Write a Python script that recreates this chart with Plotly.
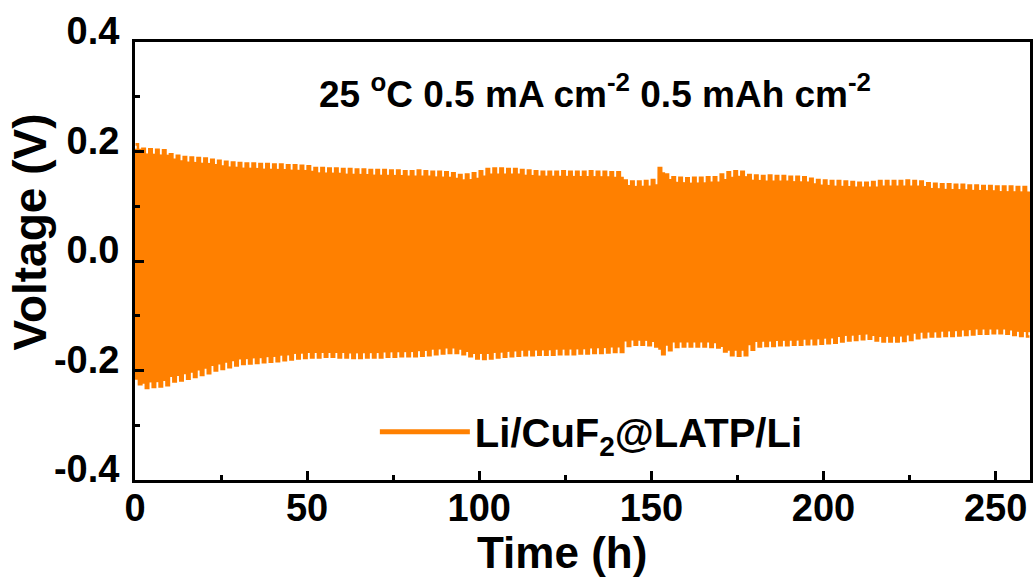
import plotly.graph_objects as go

# Galvanostatic cycling protocol: 0.5 mAh cm-2 at 0.5 mA cm-2 -> 1 h per half cycle
half_cycle_h = 1.0

# Peak voltage (V) of each plating half cycle (cycle 1..130)
upper_peak_V = [
    0.213, 0.205, 0.204, 0.203, 0.202, 0.195, 0.192, 0.190, 0.189, 0.188,
    0.187, 0.185, 0.183, 0.181, 0.180, 0.179, 0.178, 0.178, 0.177, 0.177,
    0.176, 0.176, 0.175, 0.175, 0.174, 0.173, 0.170, 0.170, 0.169, 0.169,
    0.168, 0.168, 0.167, 0.167, 0.166, 0.166, 0.166, 0.165, 0.165, 0.164,
    0.164, 0.165, 0.164, 0.163, 0.163, 0.162, 0.160, 0.157, 0.158, 0.160,
    0.164, 0.168, 0.169, 0.169, 0.168, 0.168, 0.166, 0.165, 0.164, 0.163,
    0.163, 0.163, 0.164, 0.163, 0.163, 0.163, 0.164, 0.163, 0.163, 0.162,
    0.162, 0.147, 0.145, 0.145, 0.146, 0.148, 0.170, 0.158, 0.153, 0.152,
    0.151, 0.152, 0.152, 0.153, 0.153, 0.158, 0.162, 0.164, 0.163, 0.157,
    0.156, 0.155, 0.156, 0.155, 0.155, 0.154, 0.154, 0.153, 0.150, 0.148,
    0.147, 0.146, 0.146, 0.145, 0.144, 0.143, 0.143, 0.144, 0.146, 0.146,
    0.146, 0.146, 0.147, 0.146, 0.145, 0.142, 0.141, 0.140, 0.140, 0.139,
    0.139, 0.138, 0.138, 0.137, 0.137, 0.136, 0.136, 0.136, 0.135, 0.135,
]

# Peak voltage (V) of each stripping half cycle
lower_peak_V = [
    -0.225, -0.232, -0.230, -0.229, -0.227, -0.220, -0.218, -0.215, -0.212, -0.208,
    -0.205, -0.200, -0.197, -0.194, -0.191, -0.188, -0.187, -0.186, -0.185, -0.184,
    -0.183, -0.181, -0.180, -0.178, -0.177, -0.176, -0.176, -0.175, -0.175, -0.176,
    -0.176, -0.177, -0.177, -0.176, -0.176, -0.176, -0.175, -0.175, -0.174, -0.174,
    -0.174, -0.173, -0.172, -0.170, -0.169, -0.168, -0.168, -0.170, -0.174, -0.178,
    -0.179, -0.178, -0.176, -0.175, -0.174, -0.173, -0.172, -0.172, -0.171, -0.171,
    -0.171, -0.170, -0.170, -0.170, -0.169, -0.169, -0.168, -0.168, -0.167, -0.166,
    -0.166, -0.155, -0.153, -0.153, -0.154, -0.156, -0.170, -0.163, -0.157, -0.156,
    -0.156, -0.156, -0.156, -0.157, -0.158, -0.165, -0.172, -0.173, -0.172, -0.162,
    -0.156, -0.155, -0.155, -0.154, -0.154, -0.153, -0.153, -0.152, -0.152, -0.151,
    -0.150, -0.149, -0.147, -0.145, -0.144, -0.143, -0.142, -0.145, -0.147, -0.147,
    -0.147, -0.146, -0.144, -0.141, -0.139, -0.138, -0.138, -0.137, -0.137, -0.136,
    -0.135, -0.134, -0.133, -0.133, -0.132, -0.132, -0.133, -0.135, -0.137, -0.138,
]

x_ticks = [0, 50, 100, 150, 200, 250]
y_ticks = [-0.4, -0.2, 0.0, 0.2, 0.4]
y_tick_text = ["-0.4", "-0.2", "0.0", "0.2", "0.4"]
series_name = "Li/CuF<sub>2</sub>@LATP/Li"
condition_text = "25 <sup>o</sup>C 0.5 mA cm<sup>-2</sup> 0.5 mAh cm<sup>-2</sup>"

ORANGE = "#FF8000"
FONT = "Arial, Liberation Sans, sans-serif"

# Build the voltage profile from the per-cycle peaks (short ramps between half cycles)
ramp = 0.15 * half_cycle_h
t, v = [], []
band_t, band_hi, band_lo = [], [], []
for i, (u, l) in enumerate(zip(upper_peak_V, lower_peak_V)):
    t0 = 2 * half_cycle_h * i
    t += [t0 + ramp, t0 + half_cycle_h - ramp, t0 + half_cycle_h + ramp, t0 + 2 * half_cycle_h - ramp]
    v += [u, u, l, l]
    band_t += [t0, t0 + half_cycle_h, t0 + half_cycle_h, t0 + 2 * half_cycle_h]
    band_hi += [u - 0.008] * 4
    band_lo += [l + 0.008] * 4

fig = go.Figure()
# solid interior of the densely packed trace
fig.add_trace(go.Scatter(x=band_t, y=band_lo, mode="lines", line=dict(width=0, color=ORANGE),
                         showlegend=False, hoverinfo="skip"))
fig.add_trace(go.Scatter(x=band_t, y=band_hi, mode="lines", line=dict(width=0, color=ORANGE),
                         fill="tonexty", fillcolor=ORANGE, showlegend=False, hoverinfo="skip"))
# the voltage profile
fig.add_trace(go.Scatter(x=t, y=v, mode="lines", line=dict(width=2.6, color=ORANGE),
                         showlegend=False, name=series_name))
# legend entry
fig.add_trace(go.Scatter(x=[None], y=[None], mode="lines", line=dict(width=5, color=ORANGE),
                         name=series_name, showlegend=True))

axis_common = dict(
    showline=True, linecolor="black", linewidth=3, mirror=True,
    ticks="inside", ticklen=9, tickwidth=3, tickcolor="black",
    showgrid=False, zeroline=False,
    tickfont=dict(family=FONT, size=38, color="black", weight="bold"),
)

fig.update_xaxes(range=[0, 260], tickvals=x_ticks, ticklabelstandoff=-8,
                 minor=dict(ticks="inside", ticklen=5, tickwidth=3, tickcolor="black", dtick=25, tick0=0),
                 **axis_common)
fig.update_yaxes(range=[-0.4, 0.4], tickvals=y_ticks, ticktext=y_tick_text, ticklabelshift=-11,
                 ticklabelstandoff=5,
                 minor=dict(ticks="inside", ticklen=5, tickwidth=3, tickcolor="black", dtick=0.1, tick0=0),
                 **axis_common)

fig.add_annotation(text=condition_text, x=0.5145, y=0.886, xref="paper", yref="paper",
                   xanchor="center", yanchor="middle", showarrow=False,
                   font=dict(family=FONT, size=37, color="black", weight="bold"))
fig.add_annotation(text="Voltage (V)", x=-0.117, y=0.566, xref="paper", yref="paper",
                   xanchor="center", yanchor="middle", textangle=-90, showarrow=False,
                   font=dict(family=FONT, size=46, color="black", weight="bold"))
fig.add_annotation(text="Time (h)", x=0.4766, y=-0.1644, xref="paper", yref="paper",
                   xanchor="center", yanchor="middle", showarrow=False,
                   font=dict(family=FONT, size=44, color="black", weight="bold"))

fig.update_layout(
    width=1035, height=578,
    margin=dict(l=135, r=2, t=42, b=98),
    plot_bgcolor="white", paper_bgcolor="white",
    legend=dict(x=0.268, y=0.11, xanchor="left", yanchor="middle", bgcolor="rgba(0,0,0,0)",
                font=dict(family=FONT, size=40, color="black", weight="bold"), itemwidth=90),
)

fig.write_html("out.html")
